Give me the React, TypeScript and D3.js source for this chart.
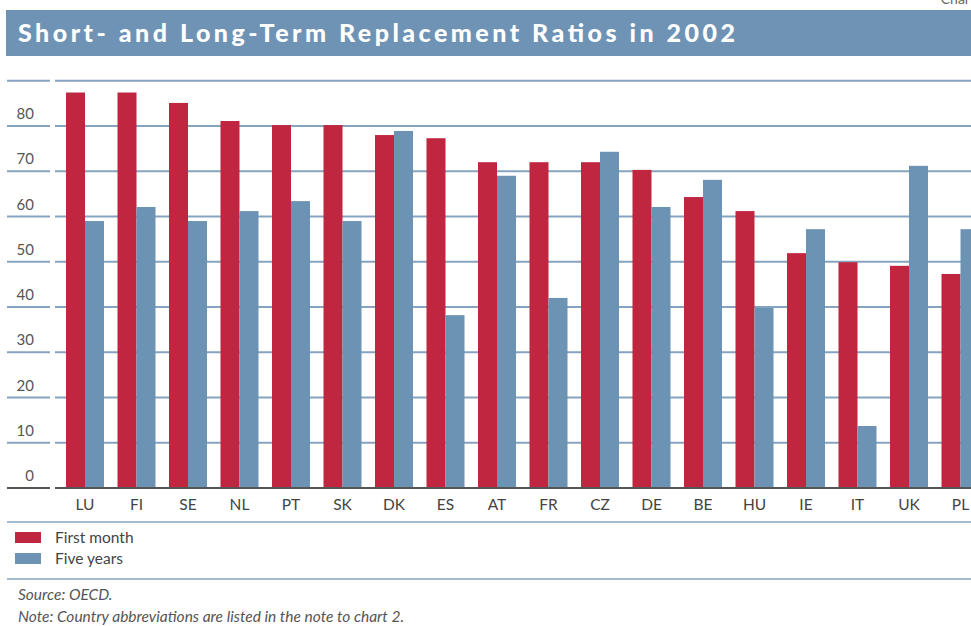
import React from "react";
import * as d3 from "d3";

const countries = ["LU", "FI", "SE", "NL", "PT", "SK", "DK", "ES", "AT", "FR", "CZ", "DE", "BE", "HU", "IE", "IT", "UK", "PL"];
const firstMonth = [87.4, 87.4, 85.1, 81.1, 80.2, 80.2, 78.0, 77.3, 72.0, 72.0, 72.0, 70.3, 64.3, 61.2, 51.9, 49.9, 49.1, 47.3];
const fiveYears = [59.0, 62.1, 59.0, 61.2, 63.4, 59.0, 78.9, 38.2, 69.0, 42.0, 74.3, 62.1, 68.1, 39.8, 57.2, 13.7, 71.2, 57.2];
const yTicks = [0, 10, 20, 30, 40, 50, 60, 70, 80, 90];
const seriesNames = ["First month", "Five years"];

const RED = "#c0263f";
const BLUE = "#6d93b4";
const GRID = "#86a3bf";

export default function App() {
  const W = 971;
  const H = 626;
  const y = d3.scaleLinear().domain([0, 90]).range([488, 80.75]);
  const x = d3.scaleBand<string>().domain(countries).range([59.25, 986.25]).paddingInner(0.262).paddingOuter(0.131);
  const sub = d3.scaleBand<number>().domain([0, 1]).range([0, x.bandwidth()]);
  const font = "Lato, 'Open Sans', sans-serif";
  return (
    <svg width={W} height={H} style={{ position: "absolute", left: 0, top: 0 }}>
      <rect width={W} height={H} fill="#fff" />
      <text x={975} y={4} textAnchor="end" fontFamily={font} fontSize={14} fill="#666">Chart</text>
      <rect x={6} y={10} width={W - 6} height={46} fill="#6f93b5" />
      <text x={18} y={42} fontFamily={font} fontWeight={900} fontSize={25} fill="#fff" textLength={717} lengthAdjust="spacing">
        Short- and Long-Term Replacement Ratios in 2002
      </text>
      {yTicks.filter((t) => t > 0).map((t) => (
        <g key={t}>
          <line x1={7} x2={50} y1={y(t)} y2={y(t)} stroke={GRID} strokeWidth={2} />
          <line x1={55} x2={W} y1={y(t)} y2={y(t)} stroke={GRID} strokeWidth={2} />
        </g>
      ))}
      {yTicks.filter((t) => t < 90).map((t) => (
        <text key={t} x={34} y={y(t) - 7} textAnchor="end" fontFamily={font} fontSize={15} fill="#555">{t}</text>
      ))}
      {countries.map((c, i) => (
        <g key={c}>
          <rect x={(x(c) as number) + (sub(0) as number)} y={y(firstMonth[i])} width={sub.bandwidth()} height={y(0) - y(firstMonth[i])} fill={RED} />
          <rect x={(x(c) as number) + (sub(1) as number)} y={y(fiveYears[i])} width={sub.bandwidth()} height={y(0) - y(fiveYears[i])} fill={BLUE} />
          <text x={(x(c) as number) + x.bandwidth() / 2} y={510} textAnchor="middle" fontFamily={font} fontSize={15.5} fill="#444">{c}</text>
        </g>
      ))}
      <line x1={7} x2={50} y1={y(0)} y2={y(0)} stroke="#555" strokeWidth={2} />
      <line x1={55} x2={W} y1={y(0)} y2={y(0)} stroke="#555" strokeWidth={2} />
      <line x1={7} x2={W} y1={522} y2={522} stroke={GRID} strokeWidth={1.5} />
      {seriesNames.map((s, i) => (
        <g key={s}>
          <rect x={15} y={532 + i * 21} width={26} height={11} fill={i === 0 ? RED : BLUE} />
          <text x={55} y={543 + i * 21} fontFamily={font} fontSize={15.5} fill="#444">{s}</text>
        </g>
      ))}
      <line x1={7} x2={W} y1={579} y2={579} stroke={GRID} strokeWidth={1.5} />
      <text x={18} y={600} fontFamily={font} fontStyle="italic" fontSize={15.5} fill="#555">Source: OECD.</text>
      <text x={18} y={622} fontFamily={font} fontStyle="italic" fontSize={15.5} fill="#555">Note: Country abbreviations are listed in the note to chart 2.</text>
    </svg>
  );
}
